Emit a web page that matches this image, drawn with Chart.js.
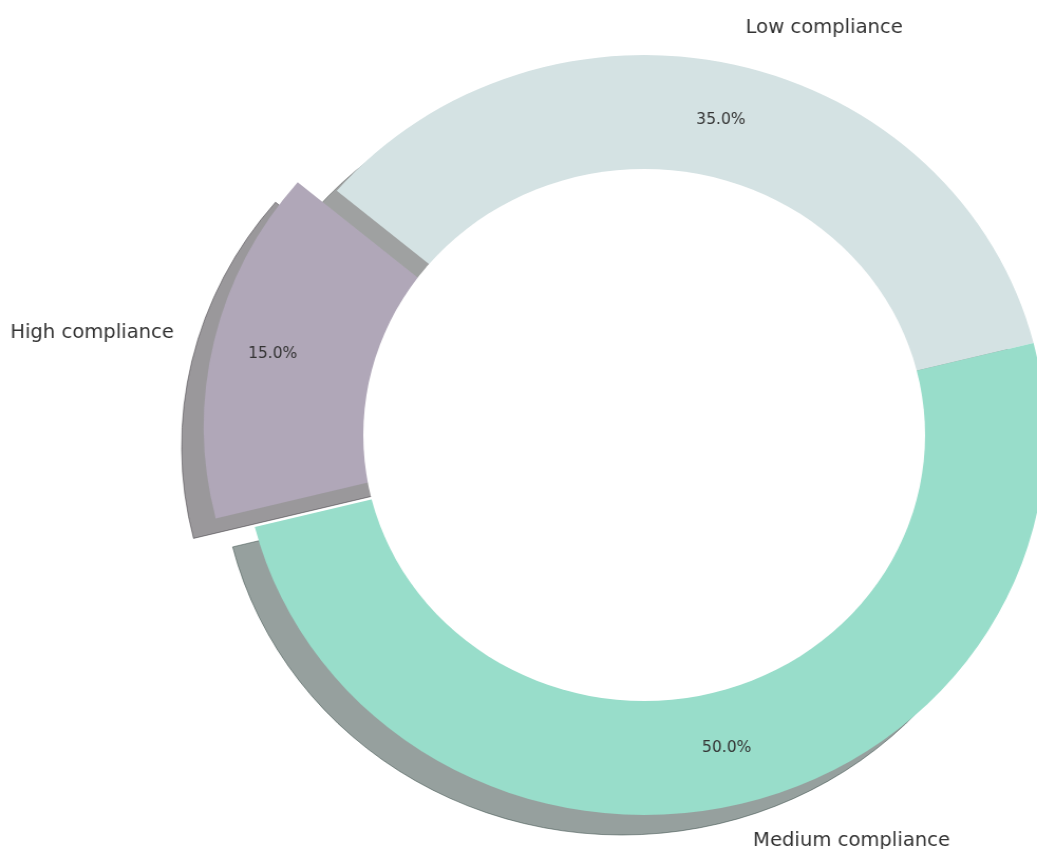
<!DOCTYPE html>
<html>
<head>
<meta charset="utf-8">
<script src="https://cdn.jsdelivr.net/npm/chart.js@4.4.1/dist/chart.umd.min.js"></script>
<style>
    html, body { margin: 0; padding: 0; background: #ffffff; }
    canvas { display: block; }
</style>
</head>
<body>
<canvas id="complianceChart" width="982" height="849" style="width:1037px;height:849px"></canvas>
<script>
// compliance shares, listed clockwise from the start angle
const categories = ['Low compliance', 'Medium compliance', 'High compliance'];
const shares = [35, 50, 15];
const sliceColors = ['#d4e2e3', '#98ddca', '#b0a7b8'];
const explode = [0, 0, 0.1];

// the plot area is a bit wider than tall, so the canvas is stretched horizontally
const stretchX = 1037 / 982;
const radius = 380;
const holeRatio = 0.7;
const shadowShift = { x: -21, y: 20 };
const textColor = '#333333';
const fontFamily = '"DejaVu Sans", Verdana, sans-serif';

function shadowColor(hex) {
    const n = parseInt(hex.slice(1), 16);
    const r = (n >> 16) & 255, g = (n >> 8) & 255, b = n & 255;
    return 'rgba(' + Math.round(r * 0.3) + ',' + Math.round(g * 0.3) + ',' + Math.round(b * 0.3) + ',0.5)';
}

function drawText(ctx, text, x, y, size, align) {
    ctx.save();
    ctx.translate(x, y);
    ctx.scale(1 / stretchX, 1);
    ctx.font = size + 'px ' + fontFamily;
    ctx.fillStyle = textColor;
    ctx.textAlign = align;
    ctx.textBaseline = 'middle';
    ctx.fillText(text, 0, 0);
    ctx.restore();
}

const pieExtras = {
    id: 'pieExtras',
    afterDatasetUpdate(chart) {
        // pull exploded wedges out along their bisector
        const arcs = chart.getDatasetMeta(0).data;
        arcs.forEach((a, i) => {
            if (!explode[i]) return;
            const mid = (a.startAngle + a.endAngle) / 2;
            const d = explode[i] * a.outerRadius;
            a.x += Math.cos(mid) * d;
            a.y += Math.sin(mid) * d;
        });
    },
    beforeDatasetsDraw(chart) {
        const ctx = chart.ctx;
        const arcs = chart.getDatasetMeta(0).data;
        arcs.forEach((a, i) => {
            const cx = a.x + shadowShift.x, cy = a.y + shadowShift.y;
            ctx.save();
            ctx.beginPath();
            ctx.moveTo(cx, cy);
            ctx.arc(cx, cy, a.outerRadius, a.startAngle, a.endAngle);
            ctx.closePath();
            ctx.fillStyle = shadowColor(sliceColors[i]);
            ctx.strokeStyle = shadowColor(sliceColors[i]);
            ctx.lineWidth = 1;
            ctx.fill();
            ctx.stroke();
            ctx.restore();
        });
    },
    afterDatasetsDraw(chart) {
        const ctx = chart.ctx;
        const arcs = chart.getDatasetMeta(0).data;
        const area = chart.chartArea;
        const cx = (area.left + area.right) / 2;
        const cy = (area.top + area.bottom) / 2;

        // white centre disc turns the pie into a ring
        ctx.save();
        ctx.beginPath();
        ctx.arc(cx, cy, radius * holeRatio, 0, Math.PI * 2);
        ctx.fillStyle = '#ffffff';
        ctx.fill();
        ctx.restore();

        const total = shares.reduce((s, v) => s + v, 0);
        arcs.forEach((a, i) => {
            const mid = (a.startAngle + a.endAngle) / 2;
            const cos = Math.cos(mid), sin = Math.sin(mid);
            const pct = (shares[i] / total * 100).toFixed(1) + '%';
            drawText(ctx, pct, a.x + cos * a.outerRadius * 0.85, a.y + sin * a.outerRadius * 0.85, 15.5, 'center');
            const lx = a.x + cos * a.outerRadius * 1.1;
            const ly = a.y + sin * a.outerRadius * 1.1;
            drawText(ctx, categories[i], lx + (cos >= 0 ? 2 : -1), ly, 19.6, cos >= 0 ? 'left' : 'right');
        });
    }
};

new Chart('complianceChart', {
    type: 'pie',
    data: {
        labels: categories,
        datasets: [{
            data: shares,
            backgroundColor: sliceColors,
            borderWidth: 0,
            clip: false
        }]
    },
    options: {
        responsive: false,
        devicePixelRatio: 1,
        animation: false,
        events: [],
        rotation: -50,
        radius: radius,
        layout: {
            padding: { left: 238, right: 0, top: 21, bottom: 0 }
        },
        plugins: {
            legend: { display: false },
            tooltip: { enabled: false }
        }
    },
    plugins: [pieExtras]
});
</script>
</body>
</html>
